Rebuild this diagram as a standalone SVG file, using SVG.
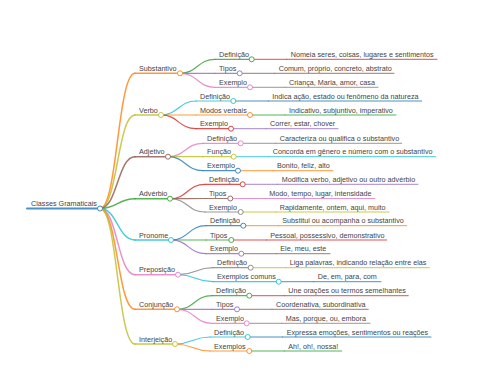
<svg xmlns="http://www.w3.org/2000/svg" width="480" height="384" viewBox="0 0 480 384">
<style>
text{font-family:"Liberation Sans",Arial,sans-serif;font-size:7.2px;fill:#444}
path,line{fill:none;stroke-linecap:round;stroke-opacity:0.8}
circle{fill:#fff;stroke-width:1;stroke-opacity:0.85}
.w0{stroke-width:2}.w1{stroke-width:1.5}.w2{stroke-width:1.2}.w3{stroke-width:1}
.c0{stroke:#1f77b4}.c1{stroke:#ff7f0e}.c2{stroke:#2ca02c}.c3{stroke:#d62728}.c4{stroke:#9467bd}
.c5{stroke:#8c564b}.c6{stroke:#e377c2}.c7{stroke:#7f7f7f}.c8{stroke:#bcbd22}.c9{stroke:#17becf}
</style>
<rect width="480" height="384" fill="#fff"/>
<g id="connectors">
<path class="w1 c1" d="M100 208.5C117.5 208.5,117.5 73.3,135 73.3"/>
<path class="w1 c8" d="M100 208.5C117.5 208.5,117.5 115,135 115"/>
<path class="w1 c5" d="M100 208.5C117.5 208.5,117.5 156.7,135 156.7"/>
<path class="w1 c2" d="M100 208.5C117.5 208.5,117.5 198.7,135 198.7"/>
<path class="w1 c9" d="M100 208.5C117.5 208.5,117.5 240,135 240"/>
<path class="w1 c6" d="M100 208.5C117.5 208.5,117.5 274.7,135 274.7"/>
<path class="w1 c1" d="M100 208.5C117.5 208.5,117.5 309.3,135 309.3"/>
<path class="w1 c8" d="M100 208.5C117.5 208.5,117.5 344,135 344"/>
<path class="w2 c2" d="M180 73.3C197.5 73.3,197.5 59.3,215 59.3"/>
<path class="w2 c4" d="M180 73.3C197.5 73.3,197.5 73.3,215 73.3"/>
<path class="w2 c6" d="M180 73.3C197.5 73.3,197.5 87.3,215 87.3"/>
<path class="w2 c9" d="M161 115C178.5 115,178.5 101,196 101"/>
<path class="w2 c1" d="M161 115C178.5 115,178.5 115,196 115"/>
<path class="w2 c3" d="M161 115C178.5 115,178.5 128.7,196 128.7"/>
<path class="w2 c6" d="M168 156.7C185.5 156.7,185.5 143.3,203 143.3"/>
<path class="w2 c8" d="M168 156.7C185.5 156.7,185.5 156.7,203 156.7"/>
<path class="w2 c0" d="M168 156.7C185.5 156.7,185.5 170.7,203 170.7"/>
<path class="w2 c3" d="M170 198.7C187.5 198.7,187.5 184.3,205 184.3"/>
<path class="w2 c5" d="M170 198.7C187.5 198.7,187.5 198.5,205 198.5"/>
<path class="w2 c7" d="M170 198.7C187.5 198.7,187.5 212,205 212"/>
<path class="w2 c0" d="M171 240C188.5 240,188.5 225.7,206 225.7"/>
<path class="w2 c2" d="M171 240C188.5 240,188.5 240,206 240"/>
<path class="w2 c4" d="M171 240C188.5 240,188.5 253.7,206 253.7"/>
<path class="w2 c7" d="M178 274.7C195.5 274.7,195.5 267.7,213 267.7"/>
<path class="w2 c9" d="M178 274.7C195.5 274.7,195.5 281.7,213 281.7"/>
<path class="w2 c2" d="M177 309.3C194.5 309.3,194.5 295.7,212 295.7"/>
<path class="w2 c4" d="M177 309.3C194.5 309.3,194.5 309.3,212 309.3"/>
<path class="w2 c6" d="M177 309.3C194.5 309.3,194.5 323.3,212 323.3"/>
<path class="w2 c9" d="M175 344C192.5 344,192.5 337,210 337"/>
<path class="w2 c1" d="M175 344C192.5 344,192.5 351,210 351"/>
<path class="w3 c3" d="M251.7 59.3H286.7"/>
<path class="w3 c5" d="M239.7 73.3H274.7"/>
<path class="w3 c7" d="M250 87.3H285"/>
<path class="w3 c0" d="M233.3 101H268.3"/>
<path class="w3 c2" d="M250 115H285"/>
<path class="w3 c4" d="M231 128.7H266"/>
<path class="w3 c7" d="M240.7 143.3H275.7"/>
<path class="w3 c9" d="M233.7 156.7H268.7"/>
<path class="w3 c1" d="M238 170.7H273"/>
<path class="w3 c4" d="M242.7 184.3H277.7"/>
<path class="w3 c6" d="M230.3 198.5H265.3"/>
<path class="w3 c8" d="M240.7 212H275.7"/>
<path class="w3 c1" d="M243.3 225.7H278.3"/>
<path class="w3 c3" d="M231.3 240H266.3"/>
<path class="w3 c5" d="M241.3 253.7H276.3"/>
<path class="w3 c8" d="M250.7 267.7H285.7"/>
<path class="w3 c0" d="M278.7 281.7H313.7"/>
<path class="w3 c3" d="M249.3 295.7H284.3"/>
<path class="w3 c5" d="M237 309.3H272"/>
<path class="w3 c7" d="M246.7 323.3H281.7"/>
<path class="w3 c0" d="M247.7 337H282.7"/>
<path class="w3 c2" d="M249.3 351H284.3"/>
</g>
<g id="root"><line class="w0 c0" x1="27" y1="208.5" x2="100" y2="208.5"/><circle class="c0" cx="100" cy="208.5" r="2.5"/><text x="31" y="206.2">Classes Gramaticais</text></g>

<g id="substantivo"><line class="w1 c1" x1="135" y1="73.3" x2="180" y2="73.3"/><circle class="c1" cx="180" cy="73.3" r="2.5"/><text x="139" y="71">Substantivo</text></g>
<g id="substantivo-definicao"><line class="w2 c2" x1="215" y1="59.3" x2="251.7" y2="59.3"/><circle class="c2" cx="251.7" cy="59.3" r="2.5"/><text x="219" y="57">Definição</text></g>
<g id="substantivo-definicao-leaf"><line class="w3 c3" x1="286.7" y1="59.3" x2="437" y2="59.3"/><text x="290.7" y="57">Nomeia seres, coisas, lugares e sentimentos</text></g>
<g id="substantivo-tipos"><line class="w2 c4" x1="215" y1="73.3" x2="239.7" y2="73.3"/><circle class="c4" cx="239.7" cy="73.3" r="2.5"/><text x="219" y="71">Tipos</text></g>
<g id="substantivo-tipos-leaf"><line class="w3 c5" x1="274.7" y1="73.3" x2="394" y2="73.3"/><text x="278.7" y="71">Comum, próprio, concreto, abstrato</text></g>
<g id="substantivo-exemplo"><line class="w2 c6" x1="215" y1="87.3" x2="250" y2="87.3"/><circle class="c6" cx="250" cy="87.3" r="2.5"/><text x="219" y="85">Exemplo</text></g>
<g id="substantivo-exemplo-leaf"><line class="w3 c7" x1="285" y1="87.3" x2="378" y2="87.3"/><text x="289" y="85">Criança, Maria, amor, casa</text></g>

<g id="verbo"><line class="w1 c8" x1="135" y1="115" x2="161" y2="115"/><circle class="c8" cx="161" cy="115" r="2.5"/><text x="139" y="112.7">Verbo</text></g>
<g id="verbo-definicao"><line class="w2 c9" x1="196" y1="101" x2="233.3" y2="101"/><circle class="c9" cx="233.3" cy="101" r="2.5"/><text x="200" y="98.7">Definição</text></g>
<g id="verbo-definicao-leaf"><line class="w3 c0" x1="268.3" y1="101" x2="421.7" y2="101"/><text x="272.3" y="98.7">Indica ação, estado ou fenômeno da natureza</text></g>
<g id="verbo-modos"><line class="w2 c1" x1="196" y1="115" x2="250" y2="115"/><circle class="c1" cx="250" cy="115" r="2.5"/><text x="200" y="112.7">Modos verbais</text></g>
<g id="verbo-modos-leaf"><line class="w3 c2" x1="285" y1="115" x2="396" y2="115"/><text x="289" y="112.7">Indicativo, subjuntivo, imperativo</text></g>
<g id="verbo-exemplo"><line class="w2 c3" x1="196" y1="128.7" x2="231" y2="128.7"/><circle class="c3" cx="231" cy="128.7" r="2.5"/><text x="200" y="126.4">Exemplo</text></g>
<g id="verbo-exemplo-leaf"><line class="w3 c4" x1="266" y1="128.7" x2="338" y2="128.7"/><text x="270" y="126.4">Correr, estar, chover</text></g>

<g id="adjetivo"><line class="w1 c5" x1="135" y1="156.7" x2="168" y2="156.7"/><circle class="c5" cx="168" cy="156.7" r="2.5"/><text x="139" y="154.4">Adjetivo</text></g>
<g id="adjetivo-definicao"><line class="w2 c6" x1="203" y1="143.3" x2="240.7" y2="143.3"/><circle class="c6" cx="240.7" cy="143.3" r="2.5"/><text x="207" y="141">Definição</text></g>
<g id="adjetivo-definicao-leaf"><line class="w3 c7" x1="275.7" y1="143.3" x2="401.7" y2="143.3"/><text x="279.7" y="141">Caracteriza ou qualifica o substantivo</text></g>
<g id="adjetivo-funcao"><line class="w2 c8" x1="203" y1="156.7" x2="233.7" y2="156.7"/><circle class="c8" cx="233.7" cy="156.7" r="2.5"/><text x="207" y="154.4">Função</text></g>
<g id="adjetivo-funcao-leaf"><line class="w3 c9" x1="268.7" y1="156.7" x2="435.7" y2="156.7"/><text x="272.7" y="154.4">Concorda em gênero e número com o substantivo</text></g>
<g id="adjetivo-exemplo"><line class="w2 c0" x1="203" y1="170.7" x2="238" y2="170.7"/><circle class="c0" cx="238" cy="170.7" r="2.5"/><text x="207" y="168.4">Exemplo</text></g>
<g id="adjetivo-exemplo-leaf"><line class="w3 c1" x1="273" y1="170.7" x2="333" y2="170.7"/><text x="277" y="168.4">Bonito, feliz, alto</text></g>

<g id="adverbio"><line class="w1 c2" x1="135" y1="198.7" x2="170" y2="198.7"/><circle class="c2" cx="170" cy="198.7" r="2.5"/><text x="139" y="196.4">Advérbio</text></g>
<g id="adverbio-definicao"><line class="w2 c3" x1="205" y1="184.3" x2="242.7" y2="184.3"/><circle class="c3" cx="242.7" cy="184.3" r="2.5"/><text x="209" y="182">Definição</text></g>
<g id="adverbio-definicao-leaf"><line class="w3 c4" x1="277.7" y1="184.3" x2="418" y2="184.3"/><text x="281.7" y="182">Modifica verbo, adjetivo ou outro advérbio</text></g>
<g id="adverbio-tipos"><line class="w2 c5" x1="205" y1="198.5" x2="230.3" y2="198.5"/><circle class="c5" cx="230.3" cy="198.5" r="2.5"/><text x="209" y="196.2">Tipos</text></g>
<g id="adverbio-tipos-leaf"><line class="w3 c6" x1="265.3" y1="198.5" x2="375" y2="198.5"/><text x="269.3" y="196.2">Modo, tempo, lugar, intensidade</text></g>
<g id="adverbio-exemplo"><line class="w2 c7" x1="205" y1="212" x2="240.7" y2="212"/><circle class="c7" cx="240.7" cy="212" r="2.5"/><text x="209" y="209.7">Exemplo</text></g>
<g id="adverbio-exemplo-leaf"><line class="w3 c8" x1="275.7" y1="212" x2="389" y2="212"/><text x="279.7" y="209.7">Rapidamente, ontem, aqui, muito</text></g>

<g id="pronome"><line class="w1 c9" x1="135" y1="240" x2="171" y2="240"/><circle class="c9" cx="171" cy="240" r="2.5"/><text x="139" y="237.7">Pronome</text></g>
<g id="pronome-definicao"><line class="w2 c0" x1="206" y1="225.7" x2="243.3" y2="225.7"/><circle class="c0" cx="243.3" cy="225.7" r="2.5"/><text x="210" y="223.4">Definição</text></g>
<g id="pronome-definicao-leaf"><line class="w3 c1" x1="278.3" y1="225.7" x2="406.7" y2="225.7"/><text x="282.3" y="223.4">Substitui ou acompanha o substantivo</text></g>
<g id="pronome-tipos"><line class="w2 c2" x1="206" y1="240" x2="231.3" y2="240"/><circle class="c2" cx="231.3" cy="240" r="2.5"/><text x="210" y="237.7">Tipos</text></g>
<g id="pronome-tipos-leaf"><line class="w3 c3" x1="266.3" y1="240" x2="386.7" y2="240"/><text x="270.3" y="237.7">Pessoal, possessivo, demonstrativo</text></g>
<g id="pronome-exemplo"><line class="w2 c4" x1="206" y1="253.7" x2="241.3" y2="253.7"/><circle class="c4" cx="241.3" cy="253.7" r="2.5"/><text x="210" y="251.4">Exemplo</text></g>
<g id="pronome-exemplo-leaf"><line class="w3 c5" x1="276.3" y1="253.7" x2="330" y2="253.7"/><text x="280.3" y="251.4">Ele, meu, este</text></g>

<g id="preposicao"><line class="w1 c6" x1="135" y1="274.7" x2="178" y2="274.7"/><circle class="c6" cx="178" cy="274.7" r="2.5"/><text x="139" y="272.4">Preposição</text></g>
<g id="preposicao-definicao"><line class="w2 c7" x1="213" y1="267.7" x2="250.7" y2="267.7"/><circle class="c7" cx="250.7" cy="267.7" r="2.5"/><text x="217" y="265.4">Definição</text></g>
<g id="preposicao-definicao-leaf"><line class="w3 c8" x1="285.7" y1="267.7" x2="429.3" y2="267.7"/><text x="289.7" y="265.4">Liga palavras, indicando relação entre elas</text></g>
<g id="preposicao-exemplos"><line class="w2 c9" x1="213" y1="281.7" x2="278.7" y2="281.7"/><circle class="c9" cx="278.7" cy="281.7" r="2.5"/><text x="217" y="279.4">Exemplos comuns</text></g>
<g id="preposicao-exemplos-leaf"><line class="w3 c0" x1="313.7" y1="281.7" x2="381" y2="281.7"/><text x="317.7" y="279.4">De, em, para, com</text></g>

<g id="conjuncao"><line class="w1 c1" x1="135" y1="309.3" x2="177" y2="309.3"/><circle class="c1" cx="177" cy="309.3" r="2.5"/><text x="139" y="307">Conjunção</text></g>
<g id="conjuncao-definicao"><line class="w2 c2" x1="212" y1="295.7" x2="249.3" y2="295.7"/><circle class="c2" cx="249.3" cy="295.7" r="2.5"/><text x="216" y="293.4">Definição</text></g>
<g id="conjuncao-definicao-leaf"><line class="w3 c3" x1="284.3" y1="295.7" x2="408.3" y2="295.7"/><text x="288.3" y="293.4">Une orações ou termos semelhantes</text></g>
<g id="conjuncao-tipos"><line class="w2 c4" x1="212" y1="309.3" x2="237" y2="309.3"/><circle class="c4" cx="237" cy="309.3" r="2.5"/><text x="216" y="307">Tipos</text></g>
<g id="conjuncao-tipos-leaf"><line class="w3 c5" x1="272" y1="309.3" x2="368.3" y2="309.3"/><text x="276" y="307">Coordenativa, subordinativa</text></g>
<g id="conjuncao-exemplo"><line class="w2 c6" x1="212" y1="323.3" x2="246.7" y2="323.3"/><circle class="c6" cx="246.7" cy="323.3" r="2.5"/><text x="216" y="321">Exemplo</text></g>
<g id="conjuncao-exemplo-leaf"><line class="w3 c7" x1="281.7" y1="323.3" x2="370" y2="323.3"/><text x="285.7" y="321">Mas, porque, ou, embora</text></g>

<g id="interjeicao"><line class="w1 c8" x1="135" y1="344" x2="175" y2="344"/><circle class="c8" cx="175" cy="344" r="2.5"/><text x="139" y="341.7">Interjeição</text></g>
<g id="interjeicao-definicao"><line class="w2 c9" x1="210" y1="337" x2="247.7" y2="337"/><circle class="c9" cx="247.7" cy="337" r="2.5"/><text x="214" y="334.7">Definição</text></g>
<g id="interjeicao-definicao-leaf"><line class="w3 c0" x1="282.7" y1="337" x2="431" y2="337"/><text x="286.7" y="334.7">Expressa emoções, sentimentos ou reações</text></g>
<g id="interjeicao-exemplos"><line class="w2 c1" x1="210" y1="351" x2="249.3" y2="351"/><circle class="c1" cx="249.3" cy="351" r="2.5"/><text x="214" y="348.7">Exemplos</text></g>
<g id="interjeicao-exemplos-leaf"><line class="w3 c2" x1="284.3" y1="351" x2="341.7" y2="351"/><text x="288.3" y="348.7">Ah!, oh!, nossa!</text></g>
</svg>
